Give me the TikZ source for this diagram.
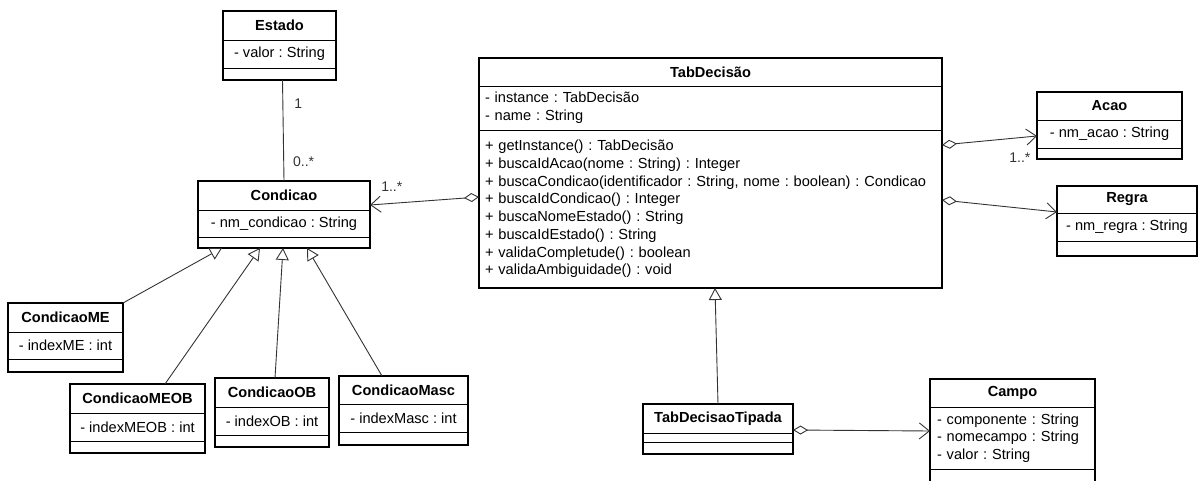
\documentclass[tikz,border=0pt]{standalone}
\usepackage{fontspec}
\setmainfont{Liberation Sans}
\usetikzlibrary{arrows.meta, positioning, fit}
\newcommand{\umlfont}{\fontsize{14.6}{17.7}\selectfont\frenchspacing}

\begin{document}
\begin{tikzpicture}[
  x=1pt, y=-1pt,
  cname/.style={draw, line width=0.8pt, font=\umlfont\bfseries, minimum height=29, inner sep=0pt, outer sep=0pt, anchor=north},
  cattr/.style={draw, line width=0.8pt, font=\umlfont, align=left, minimum height=28, inner sep=1pt, outer sep=0pt},
  cops/.style={draw, line width=0.8pt, font=\umlfont, align=left, minimum height=12, inner sep=1pt, outer sep=0pt},
  frame/.style={draw, line width=2pt, inner sep=0pt, outer sep=0pt},
  mult/.style={font=\fontsize{14}{16}\selectfont, inner sep=1pt},
  assoc/.style={line width=0.9pt, black!80},
  gen/.style={-{Triangle[open, length=12pt, width=13pt]}, line width=0.9pt, black!80},
  aggr/.style={{Diamond[open, length=15pt, width=9pt]}-{Straight Barb[length=10pt, width=16pt]}, line width=0.9pt, black!80},
]
\useasboundingbox (0,0) rectangle (1199,481);

% classes
\node[cname, minimum width=113] (estado) at (279.5,11) {Estado};
\node[cattr, minimum width=113, below=0pt of estado] (estadoA) {- valor : String};
\node[cops, minimum width=113, below=0pt of estadoA] (estadoO) {};
\node[frame, fit=(estado)(estadoO)] (estadoF) {};

\node[cname, minimum width=172] (cond) at (284,181) {Condicao};
\node[cattr, minimum width=172, minimum height=27, below=0pt of cond] (condA) {- nm\_condicao : String};
\node[cops, minimum width=172, minimum height=11, below=0pt of condA] (condO) {};
\node[frame, fit=(cond)(condO)] (condF) {};

\node[cname, minimum width=115] (me) at (65.5,303) {CondicaoME};
\node[cattr, minimum width=115, minimum height=27, below=0pt of me] (meA) {- indexME : int};
\node[cops, minimum width=115, minimum height=13, below=0pt of meA] (meO) {};
\node[frame, fit=(me)(meO)] (meF) {};

\node[cname, minimum width=135] (meob) at (137.5,384) {CondicaoMEOB};
\node[cattr, minimum width=135, below=0pt of meob] (meobA) {- indexMEOB : int};
\node[cops, minimum width=135, below=0pt of meobA] (meobO) {};
\node[frame, fit=(meob)(meobO)] (meobF) {};

\node[cname, minimum width=114] (ob) at (272,378) {CondicaoOB};
\node[cattr, minimum width=114, below=0pt of ob] (obA) {- indexOB : int};
\node[cops, minimum width=114, below=0pt of obA] (obO) {};
\node[frame, fit=(ob)(obO)] (obF) {};

\node[cname, minimum width=129, minimum height=28] (masc) at (403.5,376) {CondicaoMasc};
\node[cattr, minimum width=129, below=0pt of masc] (mascA) {- indexMasc : int};
\node[cops, minimum width=129, minimum height=13, below=0pt of mascA] (mascO) {};
\node[frame, fit=(masc)(mascO)] (mascF) {};

\node[cname, minimum width=463, minimum height=28] (tab) at (710.5,58) {TabDecisão};
\node[cattr, text width=451, inner xsep=6pt, minimum height=44, below=0pt of tab] (tabA) {- instance : TabDecisão\\- name : String};
\node[cops, text width=451, inner xsep=6pt, minimum height=158, below=0pt of tabA] (tabO) {+ getInstance() : TabDecisão\\+ buscaIdAcao(nome : String) : Integer\\+ buscaCondicao(identificador : String, nome : boolean) : Condicao\\+ buscaIdCondicao() : Integer\\+ buscaNomeEstado() : String\\+ buscaIdEstado() : String\\+ validaCompletude() : boolean\\+ validaAmbiguidade() : void};
\node[frame, fit=(tab)(tabO)] (tabF) {};

\node[cname, minimum width=145, minimum height=28] (acao) at (1109.5,92) {Acao};
\node[cattr, minimum width=145, below=0pt of acao] (acaoA) {- nm\_acao : String};
\node[cops, minimum width=145, minimum height=11, below=0pt of acaoA] (acaoO) {};
\node[frame, fit=(acao)(acaoO)] (acaoF) {};

\node[cname, minimum width=140, minimum height=27] (regra) at (1127,186) {Regra};
\node[cattr, minimum width=140, below=0pt of regra] (regraA) {- nm\_regra : String};
\node[cops, minimum width=140, minimum height=15, below=0pt of regraA] (regraO) {};
\node[frame, fit=(regra)(regraO)] (regraF) {};

\node[cname, minimum width=150] (tip) at (718,404) {TabDecisaoTipada};
\node[cops, minimum width=150, minimum height=9, below=0pt of tip] (tipA) {};
\node[cops, minimum width=150, below=0pt of tipA] (tipO) {};
\node[frame, fit=(tip)(tipO)] (tipF) {};

\node[cname, minimum width=165, minimum height=28] (campo) at (1012.5,379) {Campo};
\node[cattr, text width=151, inner xsep=7pt, minimum height=62, below=0pt of campo] (campoA) {- componente : String\\- nomecampo : String\\- valor : String};
\node[cops, minimum width=165, minimum height=15, below=0pt of campoA] (campoO) {};
\node[frame, fit=(campo)(campoO)] (campoF) {};

% connectors
\draw[assoc] ([xshift=3pt]estadoF.south) -- node[mult, pos=0.23, right=10pt] (mEst) {1} node[mult, pos=0.81, right=8pt] (mCond) {0..*} (condF.north);
\draw[aggr] ([yshift=-24pt]tabF.west) -- node[mult, pos=0.8, above=10pt] (mTabCond) {1..*} ([yshift=9.5pt]condF.east);
\draw[aggr] ([yshift=28pt]tabF.east) -- node[mult, pos=0.82, below=14pt] (mTabAcao) {1..*} ([yshift=-10.5pt]acaoF.west);
\draw[aggr] ([yshift=-27pt]tabF.east) -- ([yshift=9pt]regraF.west);
\draw[aggr] ([yshift=-1pt]tipF.east) -- ([yshift=0.5pt]campoF.west);

\draw[gen] (meF.north east) -- ([xshift=-62pt]condF.south);
\draw[gen] ([xshift=27.5pt]meobF.north) -- ([xshift=-24pt]condF.south);
\draw[gen] ([xshift=3pt]obF.north) -- ([xshift=-1pt]condF.south);
\draw[gen] ([xshift=-21.5pt]mascF.north) -- ([xshift=23pt]condF.south);
\draw[gen] (tipF.north) -- ([xshift=4.5pt]tabF.south);
\end{tikzpicture}
\end{document}
